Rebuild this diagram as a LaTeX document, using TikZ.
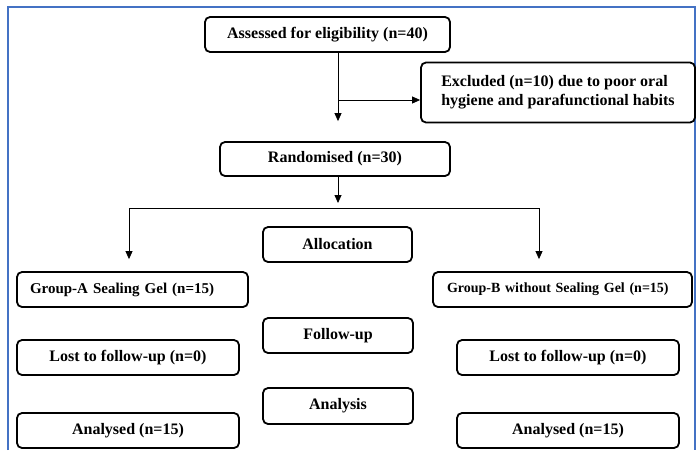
\documentclass[tikz,border=0pt]{standalone}
\usepackage{fontspec}
\setmainfont{Liberation Serif}
\usetikzlibrary{arrows.meta}
\definecolor{framebl}{RGB}{68,114,196}

\begin{document}
\begin{tikzpicture}[x=1pt,y=-1pt,
  box/.style={draw,line width=1.8pt,rounded corners=5pt,minimum height=35pt,
    inner sep=0pt,font=\fontsize{16}{19}\selectfont\bfseries},
  arr/.style={-{Triangle[length=8pt,width=7pt]},line width=0.8pt}]

\useasboundingbox (0,0) rectangle (700,450);

% Frame
\draw[framebl,line width=1.2pt] (8,450) -- (8,7) -- (695,7) -- (695,450);

% ---- Enrolment ----
\node[box,minimum width=245pt] (assess) at (327.5,34.5) {Assessed for eligibility (n=40)};
\node[box,minimum width=274pt,minimum height=60pt,align=left] (excl) at (558,92.5)
  {Excluded (n=10) due to poor oral\\hygiene and parafunctional habits};
\node[box,minimum width=230pt,minimum height=34pt] (rand) at (335,159) {Randomised (n=30)};

% Arrows
\coordinate (split) at (338,100);
\draw[arr,shorten >=20pt] (assess.south -| split) -- (split |- rand.north);
\draw[arr] (split) -- (split -| excl.west);

% ---- Allocation ----
\node[box,minimum width=149pt] (alloc) at (337.5,244.5) {Allocation};
\node[box,minimum width=231pt,text width=205pt,align=left,
  font=\fontsize{15}{18}\selectfont\bfseries] (grpA) at (132.5,289.5) {Group-A Sealing Gel (n=15)};
\node[box,minimum width=259pt,text width=231pt,align=left,
  font=\fontsize{14}{17}\selectfont\bfseries] (grpB) at (562.5,289.5) {Group-B without Sealing Gel (n=15)};

% Branches
\coordinate (fork) at (338,208);
\coordinate (forkL) at (129,208);
\coordinate (forkR) at (539,208);
\draw[arr,shorten >=5pt] (rand.south -| fork) -- (fork);
\draw[arr,shorten >=12pt] (forkR) -- (forkL) -- (forkL |- grpA.north);
\draw[arr,shorten >=12pt] (forkR) -- (forkR |- grpB.north);

% ---- Follow-up ----
\node[box,minimum width=150pt] (follow) at (338,335.5) {Follow-up};
\node[box,minimum width=222pt] (lostA) at (128,357.5) {Lost to follow-up (n=0)};
\node[box,minimum width=222pt] (lostB) at (568,357.5) {Lost to follow-up (n=0)};

% ---- Analysis ----
\node[box,minimum width=150pt,minimum height=36pt] (analysis) at (338,406) {Analysis};
\node[box,minimum width=222pt] (anaA) at (128,430.5) {Analysed (n=15)};
\node[box,minimum width=222pt] (anaB) at (568,430.5) {Analysed (n=15)};

\end{tikzpicture}
\end{document}
